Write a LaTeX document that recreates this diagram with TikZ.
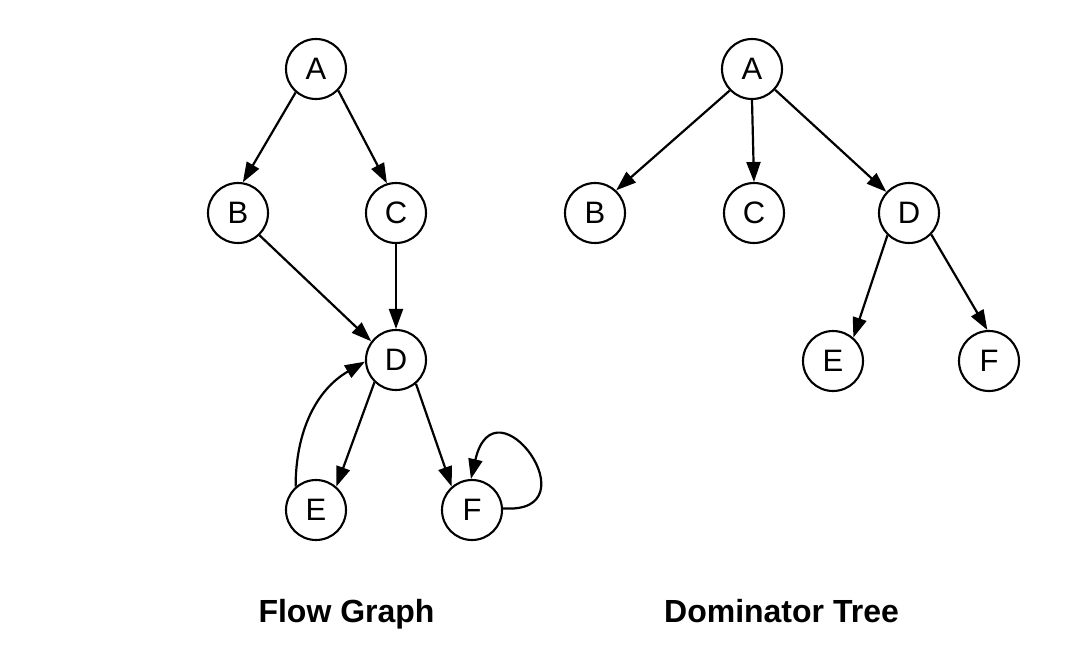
\documentclass[tikz,border=0pt]{standalone}
\usepackage{fontspec}
\setmainfont{Liberation Sans}
\usetikzlibrary{arrows.meta}
\begin{document}
\begin{tikzpicture}[x=1pt,y=-1pt,
  vtx/.style={circle,draw,line width=2.1pt,minimum size=60pt,inner sep=0pt,font=\fontsize{31}{31}\selectfont},
  edge/.style={line width=2.2pt,-{Triangle[length=20pt,width=14pt]}},
  ttl/.style={font=\fontsize{32}{32}\selectfont\bfseries,anchor=base}]
\useasboundingbox (0,0) rectangle (1074,670);
% Flow graph
\node[vtx] (A) at (316,69) {A};
\node[vtx] (B) at (238,213) {B};
\node[vtx] (C) at (396,213) {C};
\node[vtx] (D) at (396,360) {D};
\node[vtx] (E) at (316,510) {E};
\node[vtx] (F) at (472,510) {F};
\draw[edge] (A.229) -- (B.81);
\draw[edge] (A.316) -- (C.107);
\draw[edge] (B.314) -- (D.143);
\draw[edge] (C.south) -- (D.north);
\draw[edge] (D.226) -- (E.49);
\draw[edge] (D.310) -- (F.131);
\draw[edge] (E.131) to[out=90,in=210] (D.183);
\draw[edge] (F.3) .. controls (595,515) and (495,375) .. (F.92);
\node[ttl] (t1) at (346.5,622) {Flow Graph};
% Dominator tree
\node[vtx] (A2) at (752,69) {A};
\node[vtx] (B2) at (595,213) {B};
\node[vtx] (C2) at (754,213) {C};
\node[vtx] (D2) at (909,213) {D};
\node[vtx] (E2) at (833,361) {E};
\node[vtx] (F2) at (989,361) {F};
\draw[edge] (A2.224) -- (B2.47);
\draw[edge] (A2.south) -- (C2.north);
\draw[edge] (A2.318) -- (D2.137);
\draw[edge] (D2.226) -- (E2.49);
\draw[edge] (D2.316) -- (F2.93);
\node[ttl] (t2) at (781.5,622) {Dominator Tree};
\end{tikzpicture}
\end{document}
